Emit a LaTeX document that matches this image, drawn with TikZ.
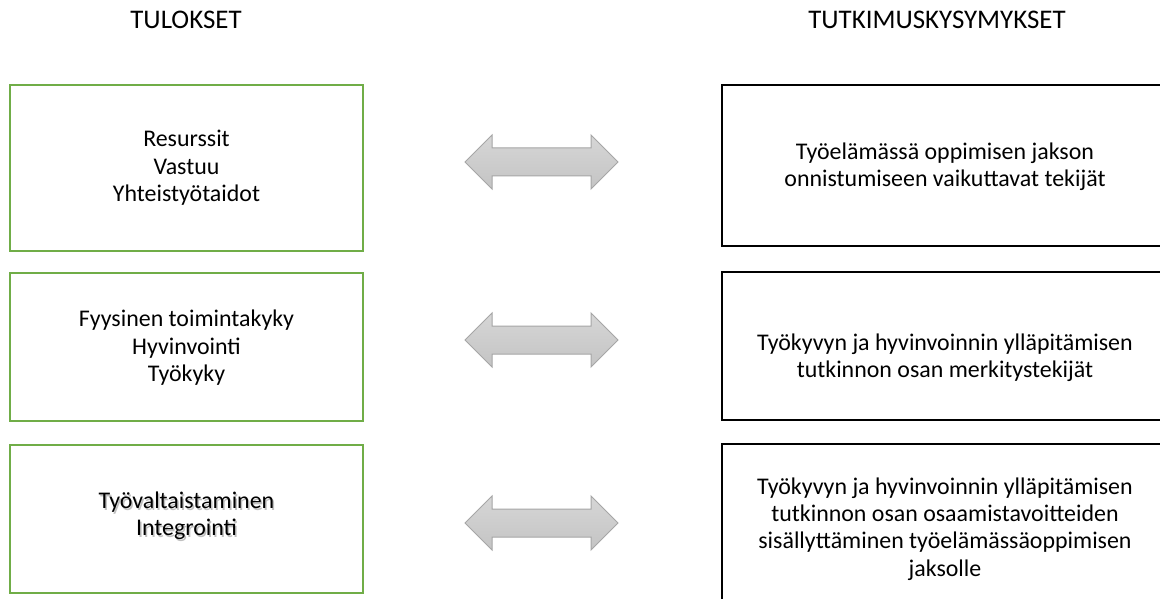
\documentclass[tikz,border=0pt]{standalone}
\usepackage{fontspec}
\setmainfont{Carlito}
\usetikzlibrary{shapes.arrows}
\definecolor{grn}{HTML}{70AD47}
\definecolor{arrline}{HTML}{A6A6A6}
\definecolor{arrtop}{HTML}{D6D6D6}
\definecolor{arrbot}{HTML}{C4C4C4}
\begin{document}
\begin{tikzpicture}[x=1bp,y=-1bp,
  lbox/.style={draw=grn, line width=1.8bp, minimum width=353bp, inner sep=0pt},
  rbox/.style={draw=black, line width=1.3bp, minimum width=446bp, inner sep=0pt},
  txt/.style={align=center, inner sep=0pt, font=\fontsize{24}{27.5}\selectfont},
  hdr/.style={inner sep=0pt, anchor=base, font=\fontsize{27}{30}\selectfont},
  dbl/.style={double arrow, draw=arrline, line width=1bp, top color=arrtop, bottom color=arrbot,
    minimum height=153bp, double arrow head extend=13bp,
    double arrow tip angle=90, inner xsep=0pt, inner ysep=13.5bp}]
\path[use as bounding box] (0,0) rectangle (1160,599);
\clip (0,0) rectangle (1160,599);
\fill[white] (0,0) rectangle (1160,599);

\node[hdr] (h1) at (186,29) {TULOKSET};
\node[hdr] (h2) at (937,29) {TUTKIMUSKYSYMYKSET};

\node[lbox, minimum height=166bp] (l1) at (186.5,168) {};
\node[lbox, minimum height=148bp] (l2) at (186.5,347) {};
\node[lbox, minimum height=148bp] (l3) at (186.5,519) {};

\node[rbox, minimum height=161bp] (r1) at (945,165.5) {};
\node[rbox, minimum height=148bp] (r2) at (945,346) {};
\node[rbox, minimum height=170bp] (r3) at (945,529) {};

\node[txt] (t1) at (186.5,168) {Resurssit\\Vastuu\\Yhteistyötaidot};
\node[txt] (t2) at (186.5,348) {Fyysinen toimintakyky\\Hyvinvointi\\Työkyky};
\node[txt, text=black!35, opacity=0.7] (t3s) at (188,518) {Työvaltaistaminen\\Integrointi};
\node[txt] (t3) at (186.5,516) {Työvaltaistaminen\\Integrointi};

\node[txt] (u1) at (945,167) {Työelämässä oppimisen jakson\\onnistumiseen vaikuttavat tekijät};
\node[txt] (u2) at (945,358) {Työkyvyn ja hyvinvoinnin ylläpitämisen\\tutkinnon osan merkitystekijät};
\node[txt] (u3) at (945,529) {Työkyvyn ja hyvinvoinnin ylläpitämisen\\tutkinnon osan osaamistavoitteiden\\sisällyttäminen työelämässäoppimisen\\jaksolle};

\node[dbl] (a1) at (541.5,162) {};
\node[dbl] (a2) at (541.5,340) {};
\node[dbl] (a3) at (541.5,523) {};
\end{tikzpicture}
\end{document}
